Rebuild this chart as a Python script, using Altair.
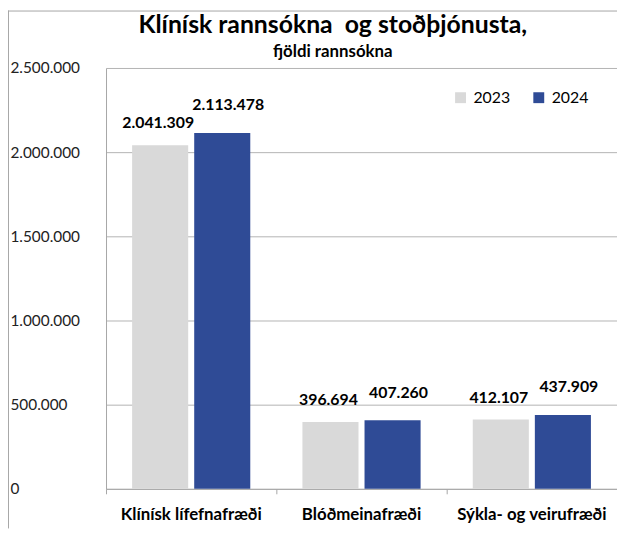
import altair as alt
import pandas as pd

categories = ["Klínísk lífefnafræði", "Blóðmeinafræði", "Sýkla- og veirufræði"]
years = ["2023", "2024"]
values_2023 = [2041309, 396694, 412107]
values_2024 = [2113478, 407260, 437909]
y_ticks = [0, 500000, 1000000, 1500000, 2000000, 2500000]
colors = ["#d9d9d9", "#2f4b96"]

rows = []
for i, c in enumerate(categories):
    for yr, vals in zip(years, [values_2023, values_2024]):
        v = vals[i]
        rows.append({"cat": c, "year": yr, "value": v,
                     "label": f"{v:,}".replace(",", ".")})
df = pd.DataFrame(rows)

W, H = 516, 425
FONT = "Lato"
GREY = "#a6a6a6"

x = alt.X("cat:N", sort=categories,
          scale=alt.Scale(paddingInner=0, paddingOuter=0),
          axis=alt.Axis(title=None, bandPosition=0, labelAngle=0, labelFont=FONT,
                        labelFontSize=17, labelFontWeight="bold", labelColor="#000",
                        labelPadding=13, tickSize=5, tickColor=GREY, domainColor=GREY,
                        grid=False))
xo = alt.XOffset("year:N", sort=years,
                 scale=alt.Scale(paddingInner=0.097, paddingOuter=0.42))
y = alt.Y("value:Q", scale=alt.Scale(domain=[0, 2500000], nice=False),
          axis=alt.Axis(title=None, values=y_ticks,
                        labelExpr="replace(format(datum.value, ','), /,/g, '.')",
                        labelAlign="left", labelPadding=97, ticks=False, tickSize=0,
                        labelFont=FONT, labelFontSize=15.5, labelColor="#222",
                        gridColor="#b3b3b3", domainColor=GREY, labelBaseline="middle"))
color = alt.Color("year:N", sort=years,
                  scale=alt.Scale(domain=years, range=colors),
                  legend=alt.Legend(title=None, orient="none", legendX=350, legendY=22,
                                    direction="horizontal", symbolType="square",
                                    symbolSize=121, symbolStrokeWidth=0,
                                    labelFont=FONT, labelFontSize=16, labelColor="#000",
                                    labelOffset=5, columnPadding=20, padding=0))

bars = alt.Chart(df).mark_bar().encode(x=x, xOffset=xo, y=y, color=color)
labels_a = alt.Chart(df).transform_filter(alt.datum.year == years[0]).mark_text(
    font=FONT, fontSize=16, fontWeight="bold", color="#000", dy=-22, dx=-2).encode(
    x=x, xOffset=xo, y=y, text="label")
labels_b = alt.Chart(df).transform_filter(alt.datum.year == years[1]).mark_text(
    font=FONT, fontSize=16, fontWeight="bold", color="#000", dy=-28, dx=6).encode(
    x=x, xOffset=xo, y=y, text="label")

one = pd.DataFrame({"k": [0]})
frame_v = alt.Chart(one).mark_rule(color=GREY, strokeWidth=1).encode(
    x=alt.value(-98.5), y=alt.value(-58), y2=alt.value(H + 40))
frame_h = alt.Chart(one).mark_rule(color=GREY, strokeWidth=1).encode(
    x=alt.value(-99), x2=alt.value(W), y=alt.value(-57.5))

chart = alt.layer(frame_v, frame_h, bars, labels_a, labels_b).properties(
    width=W, height=H,
    title=alt.TitleParams(text="Klínísk rannsókna\u00a0 og stoðþjónusta,",
                          subtitle="fjöldi rannsókna", font=FONT, fontSize=25,
                          fontWeight="bold", color="#000", subtitleFont=FONT,
                          subtitleFontSize=17, subtitleFontWeight="bold",
                          subtitleColor="#000", anchor="middle", dx=-29, offset=-50,
                          subtitlePadding=6),
    autosize=alt.AutoSizeParams(type="none"),
    padding={"left": 99, "top": 58, "right": 0, "bottom": 40},
).configure_view(stroke=None)

chart.save("out.html", embed_options={"renderer": "svg", "actions": False})
